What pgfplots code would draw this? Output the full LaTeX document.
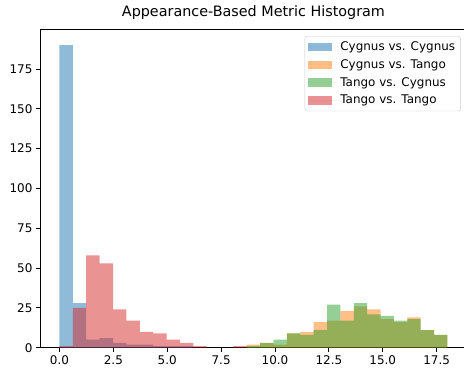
\documentclass[border=0pt]{standalone}
\usepackage{fontspec}
\setmainfont{DejaVu Sans}
\usepackage{pgfplots}
\pgfplotsset{compat=1.18}
\definecolor{tabblue}{RGB}{31,119,180}
\definecolor{taborange}{RGB}{255,127,14}
\definecolor{tabgreen}{RGB}{44,160,44}
\definecolor{tabred}{RGB}{214,39,40}
\begin{document}
\begin{tikzpicture}
\begin{axis}[
  scale only axis,
  width=426.7bp, height=317.7bp,
  xmin=-0.9, xmax=18.9,
  ymin=0, ymax=199.5,
  xtick={0,2.5,5,7.5,10,12.5,15,17.5},
  ytick={0,25,50,75,100,125,150,175},
  xticklabel style={/pgf/number format/.cd, fixed, fixed zerofill, precision=1},
  /pgf/number format/assume math mode=true,
  tick label style={font=\fontsize{12}{14}\selectfont},
  tick pos=left,
  tick align=outside,
  major tick length=4.2bp,
  every tick/.style={black, line width=1bp},
  axis line style={line width=1bp},
  title={Appearance-Based Metric Histogram},
  title style={font=\fontsize{14.4}{17}\selectfont, at={(0.5,1)}, anchor=base, yshift=7.2bp},
  legend style={at={(0.986,0.981)}, anchor=north east, draw=black!20, rounded corners=2.5bp,
    font=\fontsize{12}{14}\selectfont, inner sep=3.5bp, row sep=3.5bp},
  legend cell align=left,
  legend image code/.code={\path[#1, draw=none, fill, sharp corners] (0bp,-4.2bp) rectangle (24bp,4.2bp);
    \path (0bp,0bp) -- (30bp,0bp);},
]
\addplot[ybar interval, fill=tabblue, fill opacity=0.5, draw=none] coordinates {
(0,190) (0.6207,28) (1.2414,5) (1.8621,6) (2.4828,3) (3.1034,2) (3.7241,2) (4.3448,1) (4.9655,1) (5.5862,1) (6.2069,0)
};
\addlegendentry{Cygnus vs. Cygnus}
\addplot[ybar interval, fill=taborange, fill opacity=0.5, draw=none] coordinates {
(8.6897,2) (9.3103,3) (9.9310,2) (10.5517,9) (11.1724,10) (11.7931,16) (12.4138,17) (13.0345,23) (13.6552,26) (14.2759,24) (14.8966,18) (15.5172,16) (16.1379,19) (16.7586,11) (17.3793,8) (18.0000,0)
};
\addlegendentry{Cygnus vs. Tango}
\addplot[ybar interval, fill=tabgreen, fill opacity=0.5, draw=none] coordinates {
(8.6897,1) (9.3103,3) (9.9310,5) (10.5517,9) (11.1724,8) (11.7931,11) (12.4138,27) (13.0345,17) (13.6552,28) (14.2759,21) (14.8966,20) (15.5172,17) (16.1379,18) (16.7586,11) (17.3793,8) (18.0000,0)
};
\addlegendentry{Tango vs. Cygnus}
\addplot[ybar interval, fill=tabred, fill opacity=0.5, draw=none] coordinates {
(0,1) (0.6207,25) (1.2414,58) (1.8621,53) (2.4828,24) (3.1034,17) (3.7241,10) (4.3448,9) (4.9655,5) (5.5862,3) (6.2069,1) (6.8276,0) (7.4483,0) (8.0690,1) (8.6897,0)
};
\addlegendentry{Tango vs. Tango}
\end{axis}
\pgfresetboundingbox
\path[use as bounding box] ([shift={(-40.1bp,-21.3bp)}]current axis.south west) rectangle ([shift={(-2.8bp,30bp)}]current axis.north east);
\end{tikzpicture}
\end{document}
